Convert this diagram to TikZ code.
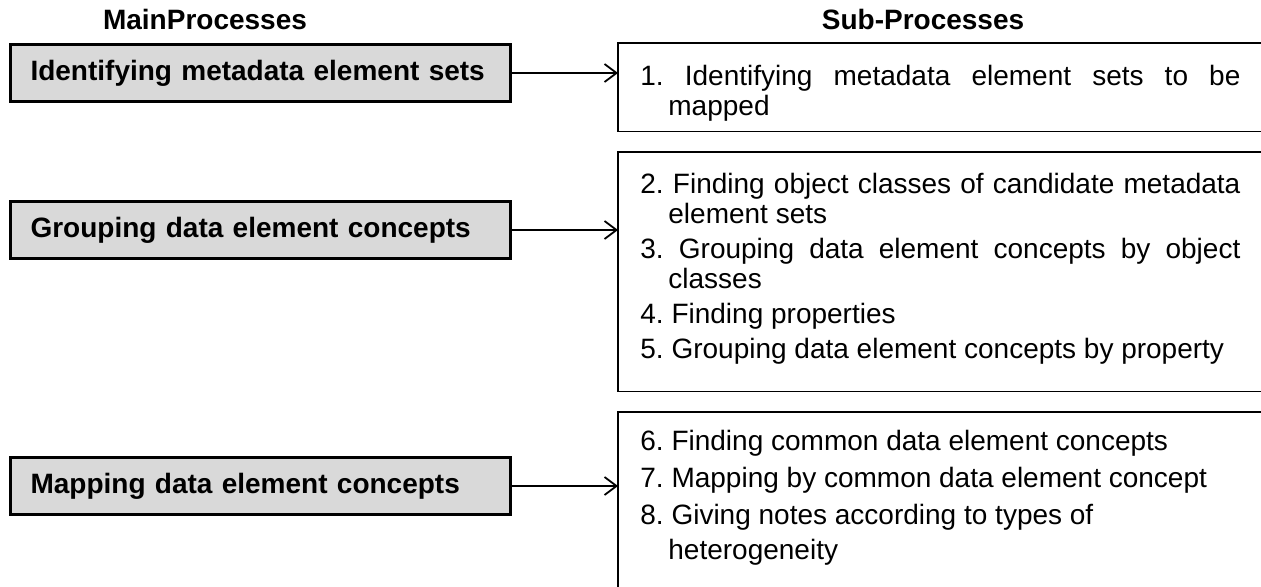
\documentclass[tikz,border=0pt]{standalone}
\usepackage{fontspec}
\setmainfont{Liberation Sans}
\usetikzlibrary{arrows.meta, calc}
\tikzset{hauptbox/.style={rectangle,draw,line width=1.5pt,fill=black!15,minimum width=250pt,minimum height=28.5pt,inner xsep=10pt,text width=230pt,align=left,font=\bfseries\fontsize{14}{16}\selectfont},
	unterbox/.style={rectangle,anchor=north west,minimum width=321.5pt},
	rahmen/.style={line width=0.6pt},
	untertext/.style={anchor=north west,inner sep=0,text width=300pt,align=justify},
	kopf/.style={font=\bfseries\fontsize{14}{16}\selectfont},
	pfeil/.style={-{Straight Barb[length=6pt,width=9pt]},line width=0.9pt} }
\newcommand{\schritt}[1]{\noindent\frenchspacing\hangindent=14pt\hangafter=1 #1\par}

\begin{document}
\begin{tikzpicture}[x=0.5pt,y=-0.5pt]
	\useasboundingbox (0,0) rectangle (1261,587);

	\node (kopf1) [kopf] at (205,19) {MainProcesses};
	\node (kopf2) [kopf] at (923,19) {Sub-Processes};

	\node (haupt1) [hauptbox] at (260.5,73) {Identifying metadata element sets};
	\node (haupt2) [hauptbox] at (260.5,230) {Grouping data element concepts};
	\node (haupt3) [hauptbox] at (260.5,486) {Mapping data element concepts};

	\node (unter1) [unterbox, minimum height=44pt] at (618,43) {};
	\node (unter2) [unterbox, minimum height=119.5pt] at (618,152) {};
	\node (unter3) [unterbox, minimum height=104pt] at (618,412) {}; % runs past the lower edge
	\foreach \u in {unter1,unter2,unter3}
		\draw [rahmen] (\u.north east) -- (\u.north west) -- (\u.south west) -- (\u.south east);

	\node (text1) [untertext, font=\fontsize{14}{15}\selectfont] at ($(unter1.north west)+(22,22)$) {%
		\schritt{1. Identifying metadata element sets to be\linebreak mapped}};
	\node (text2) [untertext, font=\fontsize{14}{15}\selectfont] at ($(unter2.north west)+(22,21)$) {%
		\setlength{\parskip}{2.5pt}%
		\schritt{2. Finding object classes of candidate metadata element sets}%
		\schritt{3. Grouping data element concepts by object\linebreak classes}%
		\schritt{4. Finding properties}%
		\schritt{5. Grouping data element concepts by property}};
	\node (text3) [untertext, font=\fontsize{14}{17.5}\selectfont] at ($(unter3.north west)+(22,18)$) {%
		\setlength{\parskip}{1pt}%
		\schritt{6. Finding common data element concepts}%
		\schritt{7. Mapping by common data element concept}%
		\schritt{8. Giving notes according to types of\newline heterogeneity}};

	\draw [pfeil] (haupt1.east) -- (haupt1.east -| unter1.west);
	\draw [pfeil] (haupt2.east) -- (haupt2.east -| unter2.west);
	\draw [pfeil] (haupt3.east) -- (haupt3.east -| unter3.west);
\end{tikzpicture}
\end{document}
